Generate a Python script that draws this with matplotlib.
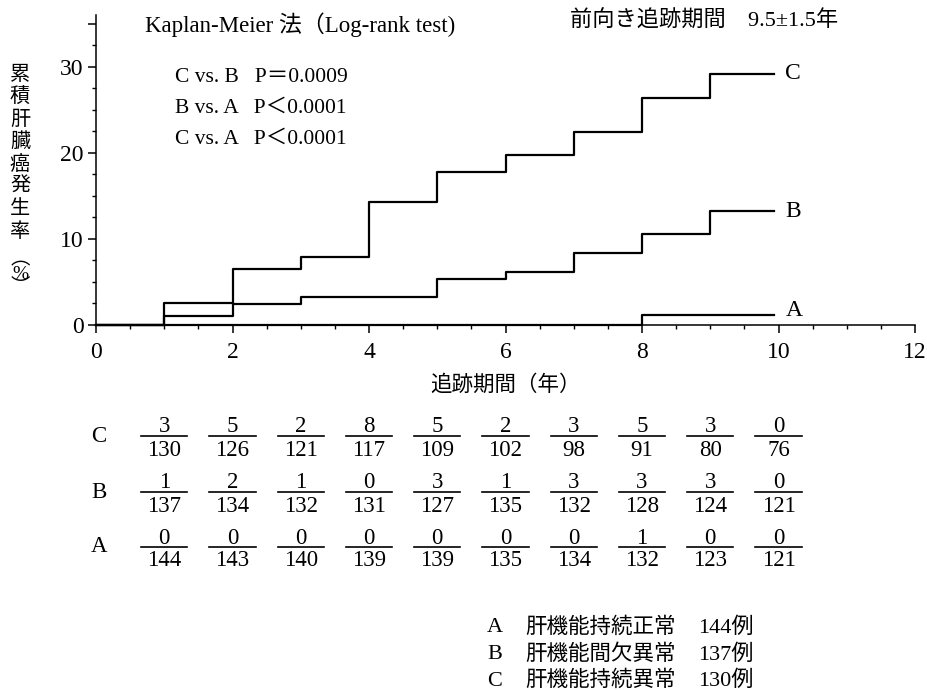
import matplotlib.pyplot as plt
from matplotlib.lines import Line2D
from matplotlib.ticker import MultipleLocator, FixedLocator
from matplotlib.transforms import blended_transform_factory

plt.rcParams['font.family'] = ['Liberation Serif', 'Noto Sans CJK JP']

# cumulative liver cancer incidence (%) at the start of each follow-up year
years = [0, 1, 2, 3, 4, 5, 6, 7, 8, 9]
t_end = 9.93
rate_C = [0, 2.6, 6.5, 7.9, 14.3, 17.8, 19.8, 22.4, 26.4, 29.2]
rate_B = [0, 1.1, 2.4, 3.3, 3.3, 5.4, 6.2, 8.4, 10.6, 13.2]
rate_A = [0, 0, 0, 0, 0, 0, 0, 0, 1.2, 1.2]

# events / number at risk for each year
table_years = [1, 2, 3, 4, 5, 6, 7, 8, 9, 10]
events_C = [3, 5, 2, 8, 5, 2, 3, 5, 3, 0]
risk_C = [130, 126, 121, 117, 109, 102, 98, 91, 80, 76]
events_B = [1, 2, 1, 0, 3, 1, 3, 3, 3, 0]
risk_B = [137, 134, 132, 131, 127, 135, 132, 128, 124, 121]
events_A = [0, 0, 0, 0, 0, 0, 0, 1, 0, 0]
risk_A = [144, 143, 140, 139, 139, 135, 134, 132, 123, 121]

groups = ['A', 'B', 'C']
group_names = ['肝機能持続正常', '肝機能間欠異常', '肝機能持続異常']
group_n = [144, 137, 130]

pvals = ['C vs. B   P＝0.0009', 'B vs. A   P＜0.0001', 'C vs. A   P＜0.0001']

W, H = 927, 690
fig = plt.figure(figsize=(W / 100, H / 100), dpi=100)


def fy(py):
    return 1 - py / H


def fx(px):
    return px / W


ax = fig.add_axes([fx(96), fy(325), fx(915) - fx(96), fy(15) - fy(325)])
ax.set_xlim(0, 12)
ax.set_ylim(0, 36)
for s in ['top', 'right']:
    ax.spines[s].set_visible(False)
for s in ['left', 'bottom']:
    ax.spines[s].set_linewidth(1.1)

ax.xaxis.set_major_locator(MultipleLocator(2))
ax.xaxis.set_minor_locator(MultipleLocator(0.5))
ax.yaxis.set_major_locator(FixedLocator([0, 10, 20, 30, 35]))
ax.yaxis.set_minor_locator(MultipleLocator(2.5))
ax.set_yticklabels(['0', '10', '20', '30', ''])
ax.tick_params(which='major', length=6, width=1.1, labelsize=17)
ax.tick_params(which='minor', length=3, width=1.0)
ax.tick_params(axis='x', which='major', pad=6)
ax.tick_params(axis='y', which='major', pad=3)

curves = {'C': rate_C, 'B': rate_B, 'A': rate_A}
for g, r in curves.items():
    ax.step(years + [t_end], r + [r[-1]], where='post', color='black', lw=1.6,
            clip_on=False)
    dy = 0.5 if g == 'A' else 0
    ax.text(t_end + 0.17, r[-1] + dy, g, fontsize=17, va='center', ha='left')

# header texts
fig.text(fx(145), fy(25), 'Kaplan-Meier 法（Log-rank test)', fontsize=16.5,
         va='center', ha='left')
fig.text(fx(570), fy(21), '前向き追跡期間　9.5±1.5年', fontsize=16,
         va='center', ha='left')
for i, p in enumerate(pvals):
    fig.text(fx(175), fy(77 + 31 * i), p, fontsize=15.5, va='center',
             ha='left')

# vertical y-axis label
ylab = list('累積肝臓癌発生率')
for i, ch in enumerate(ylab):
    fig.text(fx(20), fy(76 + 22.3 * i), ch, fontsize=14.5, ha='center',
             va='center')
fig.text(fx(20), fy(274), '︵\n%\n︶', fontsize=14, ha='center', va='center',
         linespacing=0.75)

ax.set_xlabel('追跡期間（年）', fontsize=15.5, labelpad=9)

# events / at-risk table under the plot
tr = blended_transform_factory(ax.transData, fig.transFigure)
rows = [('C', events_C, risk_C, 427), ('B', events_B, risk_B, 483),
        ('A', events_A, risk_A, 538)]
for g, ev, rk, py in rows:
    fig.text(fx(99), fy(py + 9), g, fontsize=16.5, ha='center', va='center')
    for x, e, n in zip(table_years, ev, rk):
        fig.text(x, fy(py), str(e), transform=tr, fontsize=16.5, ha='center',
                 va='center')
        fig.text(x, fy(py + 23), str(n), transform=tr, fontsize=16.5,
                 ha='center', va='center')
        fig.add_artist(Line2D([x - 0.34, x + 0.34], [fy(py + 9), fy(py + 9)],
                              transform=tr, color='black', lw=1.2))

# group legend
for i, (g, name, n) in enumerate(zip(groups, group_names, group_n)):
    y = fy(628 + 26.5 * i)
    fig.text(fx(487), y, g, fontsize=16, va='center', ha='left')
    fig.text(fx(525), y, name, fontsize=15.5, va='center', ha='left')
    fig.text(fx(698), y, f'{n}例', fontsize=16, va='center', ha='left')

fig.savefig('out.png', dpi=100)
